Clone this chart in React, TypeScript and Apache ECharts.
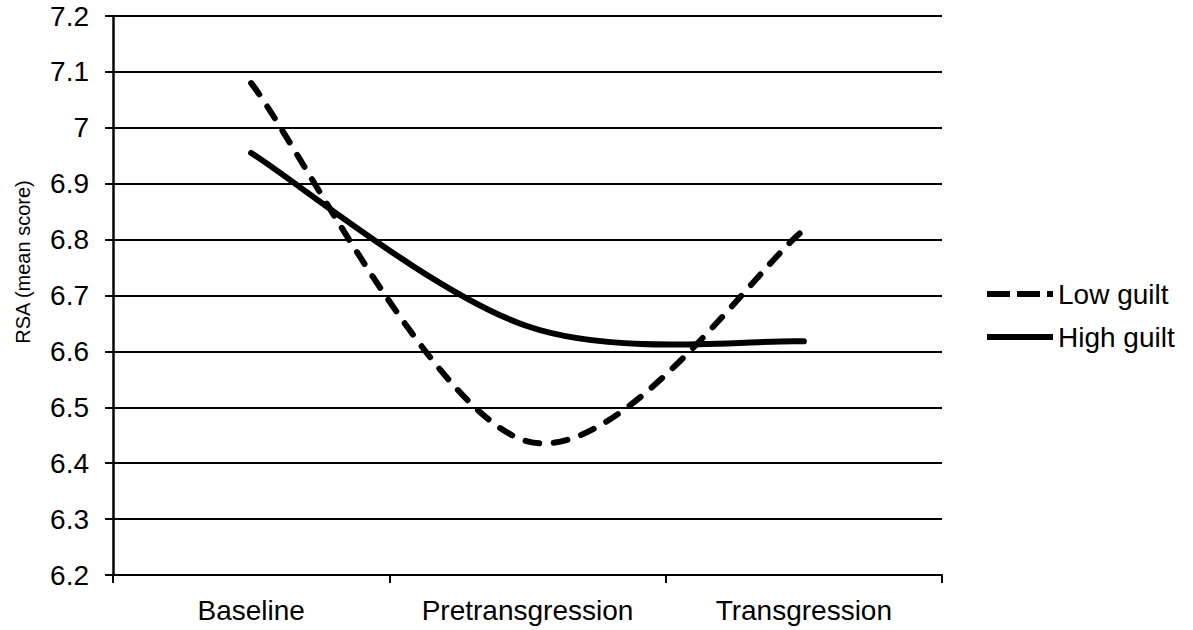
import React, { useEffect, useRef } from "react";
import * as echarts from "echarts";

const categories = ["Baseline", "Pretransgression", "Transgression"];
const lowGuilt = [7.08, 6.439, 6.817];
const highGuilt = [6.955, 6.645, 6.618];
const seriesNames = ["Low guilt", "High guilt"];
const yTitle = "RSA (mean score)";

const FONT = "'Liberation Sans', Arial, Helvetica, sans-serif";

// Excel-like smoothed line (Catmull-Rom, tension 1/6) through the points given by the axes
function smoothPath(pts: number[][]): string {
  const n = pts.length;
  let d = `M${pts[0][0]},${pts[0][1]}`;
  for (let i = 0; i < n - 1; i++) {
    const p0 = pts[i > 0 ? i - 1 : i];
    const p1 = pts[i];
    const p2 = pts[i + 1];
    const p3 = pts[i + 2 < n ? i + 2 : i + 1];
    const c1x = p1[0] + (p2[0] - p0[0]) / 6;
    const c1y = p1[1] + (p2[1] - p0[1]) / 6;
    const c2x = p2[0] - (p3[0] - p1[0]) / 6;
    const c2y = p2[1] - (p3[1] - p1[1]) / 6;
    d += ` C${c1x},${c1y} ${c2x},${c2y} ${p2[0]},${p2[1]}`;
  }
  return d;
}

function makeSeries(name: string, values: number[], dash: number[] | null) {
  return {
    name,
    type: "custom",
    data: values.map((v, i) => [i, v]),
    encode: { x: 0, y: 1 },
    itemStyle: { color: "#000" },
    silent: true,
    renderItem: (params: any, api: any) => {
      if (params.dataIndex !== 0) return null;
      const pts = values.map((v, i) => api.coord([i, v]));
      return {
        type: "path",
        shape: { pathData: smoothPath(pts) },
        style: {
          fill: "none",
          stroke: "#000",
          lineWidth: 6,
          lineDash: dash || undefined,
          lineCap: "round",
          lineJoin: "round",
        },
      };
    },
  };
}

const dashedIcon = "path://M0,0H23V6H0Z M30,0H53V6H30Z M60,0H66V6H60Z";

export default function App() {
  const ref = useRef<HTMLDivElement>(null);
  useEffect(() => {
    if (!ref.current) return;
    const chart = echarts.init(ref.current, null, { renderer: "svg" });
    chart.setOption({
      animation: false,
      backgroundColor: "#fff",
      textStyle: { fontFamily: FONT, color: "#000" },
      grid: { left: 113, right: 251, top: 16, bottom: 55, containLabel: false },
      legend: {
        orient: "vertical",
        left: 987,
        top: 280,
        padding: 0,
        itemWidth: 66,
        itemHeight: 6,
        itemGap: 15,
        selectedMode: false,
        textStyle: { fontSize: 28, color: "#000", fontFamily: FONT },
        data: [
          { name: seriesNames[0], icon: dashedIcon },
          { name: seriesNames[1], icon: "rect" },
        ],
      },
      graphic: [
        {
          type: "text",
          x: 23,
          y: 262,
          rotation: Math.PI / 2,
          style: {
            text: yTitle,
            fontSize: 20,
            fontFamily: FONT,
            fill: "#000",
            align: "center",
            verticalAlign: "middle",
          },
        },
      ],
      xAxis: {
        type: "category",
        data: categories,
        boundaryGap: true,
        axisLine: { lineStyle: { color: "#000", width: 2 } },
        axisTick: { show: true, length: 8, lineStyle: { color: "#000", width: 2 } },
        axisLabel: { fontSize: 28, color: "#000", margin: 21, fontFamily: FONT },
        splitLine: { show: false },
      },
      yAxis: {
        type: "value",
        min: 6.2,
        max: 7.2,
        interval: 0.1,
        axisLine: { show: true, lineStyle: { color: "#000", width: 2.5 } },
        axisTick: { show: true, length: 8, lineStyle: { color: "#000", width: 2 } },
        axisLabel: {
          fontSize: 28,
          color: "#000",
          margin: 24,
          fontFamily: FONT,
          formatter: (v: number) => String(Math.round(v * 10) / 10),
        },
        splitLine: { show: true, lineStyle: { color: "#000", width: 2 } },
      },
      series: [
        makeSeries(seriesNames[0], lowGuilt, [14, 14.5]),
        makeSeries(seriesNames[1], highGuilt, null),
      ],
    });
    return () => chart.dispose();
  }, []);
  return <div ref={ref} style={{ width: 1193, height: 630, position: "absolute", left: 0, top: 0 }} />;
}
